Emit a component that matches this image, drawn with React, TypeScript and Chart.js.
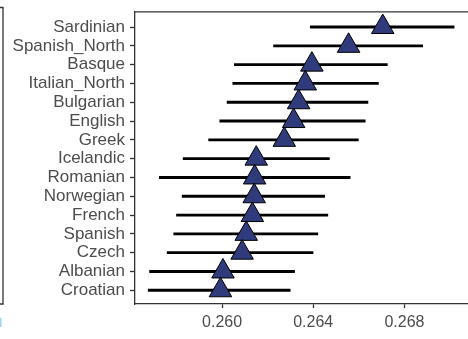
import React, { useEffect, useRef } from "react";
import { Chart, registerables } from "chart.js";

Chart.register(...registerables);

const categories = [
  "Sardinian", "Spanish_North", "Basque", "Italian_North", "Bulgarian",
  "English", "Greek", "Icelandic", "Romanian", "Norwegian",
  "French", "Spanish", "Czech", "Albanian", "Croatian",
];
const estimates = [
  0.26705, 0.26555, 0.26394, 0.26365, 0.26336,
  0.26314, 0.26273, 0.26150, 0.26143, 0.26141,
  0.26133, 0.26106, 0.26088, 0.26004, 0.25993,
];
const lower = [
  0.26387, 0.26226, 0.26054, 0.26047, 0.26022,
  0.25990, 0.25941, 0.25829, 0.25725, 0.25825,
  0.25800, 0.25788, 0.25759, 0.25682, 0.25676,
];
const upper = [
  0.27018, 0.26880, 0.26725, 0.26686, 0.26640,
  0.26628, 0.26598, 0.26471, 0.26562, 0.26450,
  0.26464, 0.26420, 0.26399, 0.26318, 0.26299,
];
const xTicks = [0.260, 0.264, 0.268];

const AXIS = "#333333";
const TEXT = "#4D4D4D";
const FONT = "'Liberation Sans', Arial, sans-serif";

const framePlugin = {
  id: "frame",
  afterDraw(chart: any) {
    const { ctx, chartArea } = chart;
    ctx.save();
    ctx.strokeStyle = AXIS;
    ctx.lineWidth = 1.3;
    ctx.beginPath();
    ctx.moveTo(chartArea.left, chartArea.top);
    ctx.lineTo(chartArea.right, chartArea.top);
    ctx.stroke();
    // partial neighbouring panel at the far left
    ctx.beginPath();
    ctx.moveTo(0, 7.5);
    ctx.lineTo(3, 7.5);
    ctx.lineTo(3, 304);
    ctx.lineTo(0, 304);
    ctx.stroke();
    ctx.fillStyle = "#9ed6f5";
    ctx.fillRect(0, 318, 1.5, 9);
    ctx.restore();
  },
};

export default function App() {
  const ref = useRef<HTMLCanvasElement>(null);
  useEffect(() => {
    if (!ref.current) return;
    const chart = new Chart(ref.current, {
      type: "bar",
      data: {
        datasets: [
          {
            type: "bar",
            data: categories.map((_, i) => ({ x: [lower[i], upper[i]], y: i })) as any,
            backgroundColor: "#000000",
            borderWidth: 0,
            barThickness: 2.2,
            order: 2,
          } as any,
          {
            type: "scatter",
            data: categories.map((_, i) => ({ x: estimates[i], y: i })),
            pointStyle: "triangle",
            pointRadius: 13,
            backgroundColor: "#2F3B7B",
            borderColor: "#000000",
            borderWidth: 1,
            order: 1,
          } as any,
        ],
      },
      options: {
        indexAxis: "y",
        animation: false,
        responsive: false,
        maintainAspectRatio: false,
        layout: { autoPadding: false, padding: { top: 7.5, right: 0, left: 0, bottom: 0 } },
        plugins: { legend: { display: false }, tooltip: { enabled: false } },
        scales: {
          x: {
            type: "linear",
            min: 0.25618,
            max: 0.27079,
            offset: false,
            afterBuildTicks: (s: any) => {
              s.ticks = xTicks.map((v) => ({ value: v }));
            },
            afterFit: (s: any) => {
              s.height = 35;
            },
            ticks: {
              callback: (v: any) => Number(v).toFixed(3),
              color: TEXT,
              font: { family: FONT, size: 16 },
              padding: 5,
              maxRotation: 0,
            },
            grid: { offset: false, drawOnChartArea: false, tickLength: 4, color: AXIS, tickWidth: 1.3 },
            border: { display: true, color: AXIS, width: 1.3 },
          },
          y: {
            type: "linear",
            reverse: true,
            min: -0.81,
            max: 14.73,
            offset: false,
            afterBuildTicks: (s: any) => {
              s.ticks = categories.map((_, i) => ({ value: i }));
            },
            afterFit: (s: any) => {
              s.width = 135;
            },
            ticks: {
              callback: (v: any) => categories[v] ?? "",
              color: TEXT,
              font: { family: FONT, size: 17, lineHeight: 0.8 },
              padding: 5,
              autoSkip: false,
            },
            grid: { offset: false, drawOnChartArea: false, tickLength: 5, color: AXIS, tickWidth: 1.3 },
            border: { display: true, color: AXIS, width: 1.3 },
          },
        },
      } as any,
      plugins: [framePlugin],
    });
    return () => chart.destroy();
  }, []);
  return (
    <div style={{ position: "fixed", left: 0, top: 0, width: 468, height: 339, background: "#fff", overflow: "hidden" }}>
      <canvas ref={ref} width={468} height={339} style={{ display: "block", width: 468, height: 339 }} />
    </div>
  );
}
